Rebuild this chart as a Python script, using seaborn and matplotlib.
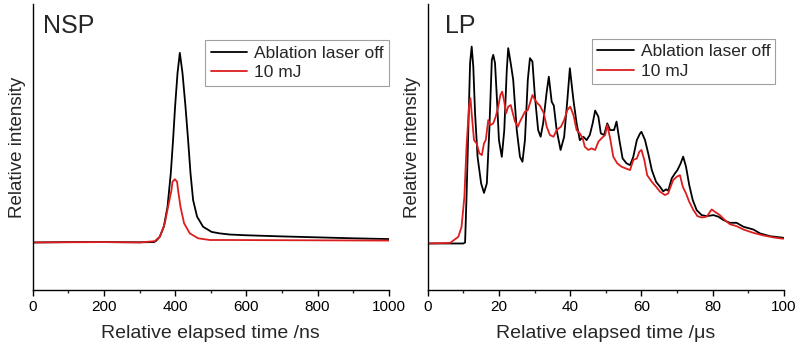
import numpy as np
import pandas as pd
import seaborn as sns
import matplotlib.pyplot as plt
from matplotlib.ticker import MultipleLocator

# --- data (relative intensity, arbitrary units) ---
# NSP panel, time in ns
nsp_off_t = [0, 100, 200, 300, 340, 345.5, 356.7, 368, 378.4, 387.6, 394, 399.7, 406.5,
             413, 420.5, 428.9, 436.2, 443, 450.3, 461.5, 478.4, 502, 525, 553, 600, 700,
             800, 900, 1000]
nsp_off_i = [-0.002, 0.0, 0.0, -0.001, 0.0, 0.005, 0.028, 0.081, 0.187, 0.363, 0.540,
             0.716, 0.893, 1.0, 0.893, 0.716, 0.540, 0.363, 0.222, 0.134, 0.081, 0.054,
             0.046, 0.040, 0.036, 0.030, 0.025, 0.020, 0.016]
nsp_on_t = [0, 100, 200, 300, 342.7, 356.7, 370.8, 380, 389.6, 392.4, 399, 405.3, 408,
            414.8, 425, 441, 464.4, 497, 550, 700, 850, 1000]
nsp_on_i = [-0.002, -0.001, 0.0, -0.002, 0.005, 0.028, 0.099, 0.187, 0.275, 0.319, 0.332,
            0.319, 0.275, 0.187, 0.099, 0.046, 0.020, 0.011, 0.011, 0.010, 0.009, 0.008]

# LP panel, time in us
lp_off_t = [0, 10.0, 10.5, 10.9, 11.4, 11.9, 12.35, 12.8, 13.3, 14.0, 15.0, 15.8, 16.6,
            17.3, 18.0, 18.4, 18.9, 19.4, 20.0, 20.8, 21.5, 22.2, 22.6, 23.3, 24.0, 25.0,
            25.9, 26.6, 27.3, 28.1, 28.7, 29.4, 30.1, 31.0, 31.7, 32.4, 33.4, 34.0, 34.8,
            35.4, 36.2, 37.3, 38.3, 39.2, 39.9, 40.9, 41.8, 42.7, 43.7, 44.6, 45.5, 46.3,
            47.0, 47.9, 48.6, 49.5, 50.4, 51.2, 52.3, 53.0, 53.8, 54.7, 55.8, 56.8, 57.7,
            58.7, 59.6, 60.0, 61.0, 62.0, 62.9, 64.1, 65.2, 66.1, 66.9, 67.5, 68.5, 69.4,
            70.1, 71.0, 71.7, 72.5, 73.4, 74.4, 75.5, 76.9, 78.3, 80.2, 81.6, 83.0, 84.8,
            86.7, 88.6, 91.4, 93.3, 96.1, 99.8]
lp_off_i = [0.0, 0.0, 0.005, 0.237, 0.576, 0.916, 1.0, 0.898, 0.661, 0.440, 0.305, 0.257,
            0.305, 0.576, 0.932, 0.958, 0.916, 0.746, 0.525, 0.440, 0.576, 0.881, 0.992,
            0.916, 0.831, 0.576, 0.440, 0.415, 0.525, 0.831, 0.941, 0.924, 0.746, 0.576,
            0.542, 0.610, 0.770, 0.847, 0.720, 0.700, 0.576, 0.475, 0.542, 0.729, 0.890,
            0.729, 0.610, 0.525, 0.542, 0.525, 0.551, 0.610, 0.675, 0.644, 0.559, 0.551,
            0.610, 0.576, 0.576, 0.619, 0.525, 0.432, 0.407, 0.398, 0.440, 0.525, 0.559,
            0.567, 0.525, 0.449, 0.373, 0.313, 0.288, 0.265, 0.275, 0.268, 0.331, 0.356,
            0.373, 0.407, 0.441, 0.390, 0.297, 0.220, 0.169, 0.144, 0.139, 0.144, 0.136,
            0.119, 0.105, 0.105, 0.085, 0.071, 0.051, 0.037, 0.029]
lp_on_t = [0, 6.3, 8.6, 9.5, 10.3, 10.9, 11.6, 12.0, 12.35, 13.0, 13.75, 14.5, 15.2, 15.8,
           16.3, 17.0, 17.6, 18.4, 19.1, 19.8, 20.4, 20.9, 21.5, 22.0, 22.6, 23.3, 23.9,
           24.5, 25.3, 25.9, 26.6, 27.3, 28.1, 28.7, 29.4, 30.1, 30.8, 31.5, 32.6, 33.4,
           34.3, 35.3, 36.2, 37.4, 38.3, 39.2, 40.0, 40.9, 41.8, 42.7, 43.5, 44.1, 45.1,
           46.0, 47.0, 47.9, 48.8, 49.8, 50.4, 51.2, 52.1, 53.2, 54.4, 55.6, 56.8, 57.7,
           58.7, 59.4, 60.0, 60.8, 61.6, 62.9, 64.1, 65.2, 66.6, 67.5, 68.0, 68.9, 69.9,
           70.8, 71.6, 72.5, 73.4, 74.6, 75.7, 76.9, 78.3, 79.7, 80.6, 82.0, 83.4, 84.8,
           86.7, 88.6, 91.4, 94.2, 97.0, 99.8]
lp_on_i = [0.0, 0.003, 0.034, 0.084, 0.237, 0.491, 0.695, 0.738, 0.661, 0.525, 0.508,
           0.458, 0.449, 0.508, 0.525, 0.627, 0.601, 0.610, 0.644, 0.695, 0.754, 0.771,
           0.720, 0.661, 0.695, 0.703, 0.661, 0.619, 0.593, 0.619, 0.644, 0.669, 0.678,
           0.712, 0.754, 0.729, 0.712, 0.700, 0.661, 0.593, 0.551, 0.542, 0.576, 0.593,
           0.627, 0.678, 0.695, 0.653, 0.576, 0.559, 0.534, 0.491, 0.475, 0.483, 0.475,
           0.517, 0.534, 0.551, 0.602, 0.534, 0.440, 0.407, 0.390, 0.381, 0.373, 0.424,
           0.432, 0.466, 0.475, 0.424, 0.347, 0.313, 0.288, 0.263, 0.246, 0.254, 0.280,
           0.322, 0.339, 0.347, 0.288, 0.254, 0.212, 0.169, 0.139, 0.132, 0.136, 0.173,
           0.161, 0.144, 0.119, 0.098, 0.088, 0.071, 0.054, 0.041, 0.031, 0.024]

labels = ['Ablation laser off', '10 mJ']
colors = ['black', '#dc1e1e']

sns.set_style("ticks")
plt.rcParams['font.family'] = ['Liberation Sans', 'DejaVu Sans']
plt.rcParams['axes.linewidth'] = 1.0

fig = plt.figure(figsize=(8, 3.5), dpi=100)
ax1 = fig.add_axes([0.041, 0.171, 0.445, 0.818])
ax2 = fig.add_axes([0.5346, 0.171, 0.4454, 0.818])

panels = [
    (ax1, nsp_off_t, nsp_off_i, nsp_on_t, nsp_on_i, 'NSP', 'Relative elapsed time /ns',
     (0, 1000), 200, 100, (-0.254, 1.259), (0.028, 0.965), (1.0, 0.872)),
    (ax2, lp_off_t, lp_off_i, lp_on_t, lp_on_i, 'LP', 'Relative elapsed time /\u03bcs',
     (0, 100), 20, 10, (-0.237, 1.217), (0.049, 0.965), (0.976, 0.877)),
]

for ax, t0, i0, t1, i1, name, xlab, xlim, major, minor, ylim, txtpos, legpos in panels:
    sns.lineplot(x=t0, y=i0, color=colors[0], linewidth=1.3, label=labels[0], ax=ax)
    sns.lineplot(x=t1, y=i1, color=colors[1], linewidth=1.3, label=labels[1], ax=ax)
    ax.set_xlim(*xlim)
    ax.set_ylim(*ylim)
    ax.xaxis.set_major_locator(MultipleLocator(major))
    ax.xaxis.set_minor_locator(MultipleLocator(minor))
    ax.set_yticks([])
    ax.tick_params(axis='x', which='major', direction='out', length=4, width=1,
                   labelsize=11, pad=3, colors='black')
    ax.tick_params(axis='x', which='minor', direction='out', length=2.2, width=1)
    for s in ['top', 'right']:
        ax.spines[s].set_visible(False)
    for s in ['left', 'bottom']:
        ax.spines[s].set_color('black')
    ax.set_xlabel(xlab, fontsize=14, labelpad=8)
    ax.set_ylabel('Relative intensity', fontsize=13.5, labelpad=5)
    ax.text(txtpos[0], txtpos[1], name, transform=ax.transAxes, fontsize=18,
            ha='left', va='top')
    leg = ax.legend(loc='upper right', bbox_to_anchor=legpos, fontsize=12.5,
                    frameon=True, fancybox=False, framealpha=1, edgecolor='#a0a0a0',
                    borderaxespad=0, handlelength=2.1, handletextpad=0.4,
                    borderpad=0.3, labelspacing=0.25)
    leg.get_frame().set_linewidth(0.8)

fig.savefig('out.png', dpi=100)
